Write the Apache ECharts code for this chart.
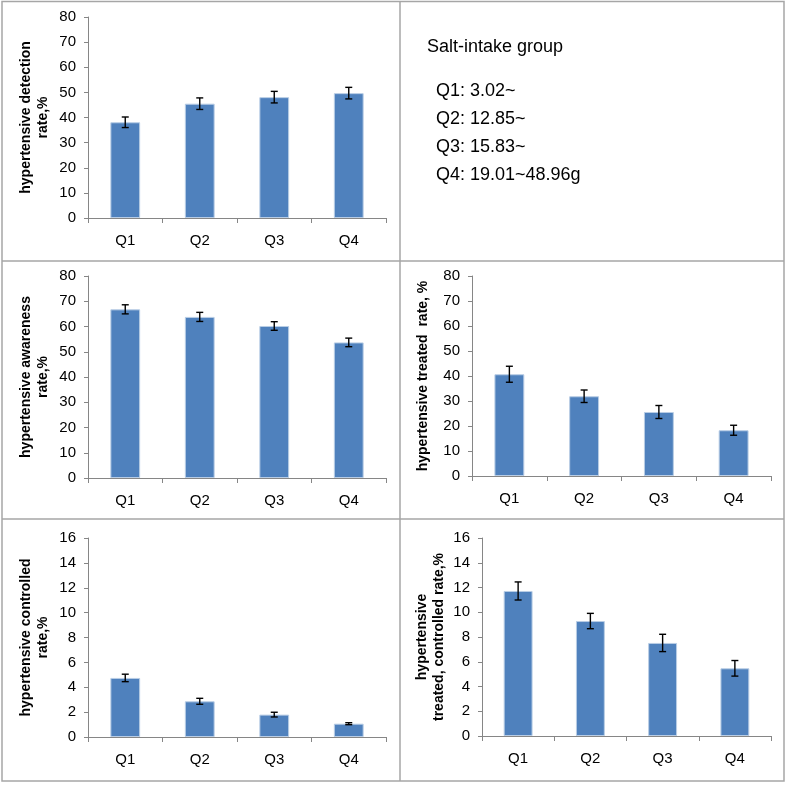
<!DOCTYPE html>
<html>
<head>
<meta charset="utf-8">
<script src="https://cdn.jsdelivr.net/npm/echarts@6/dist/echarts.min.js"></script>
<style>
html,body{margin:0;padding:0;background:#fff;}
#chart{width:787px;height:785px;}
</style>
</head>
<body>
<div id="chart"></div>
<script>
// ---- data ----
const categories = ['Q1', 'Q2', 'Q3', 'Q4'];
const detection = [38.1, 45.5, 48.1, 49.7];
const detectionErr = [2.1, 2.3, 2.3, 2.3];
const awareness = [66.8, 63.8, 60.2, 53.7];
const awarenessErr = [1.8, 1.8, 1.7, 1.7];
const treated = [40.7, 31.9, 25.6, 18.3];
const treatedErr = [3.2, 2.5, 2.6, 2.0];
const controlled = [4.75, 2.87, 1.80, 1.07];
const controlledErr = [0.30, 0.24, 0.19, 0.08];
const treatedControlled = [11.72, 9.29, 7.52, 5.47];
const treatedControlledErr = [0.73, 0.62, 0.70, 0.63];

const yNames = [
  'hypertensive detection\nrate,%',
  'hypertensive awareness\nrate,%',
  'hypertensive treated  rate, %',
  'hypertensive controlled\nrate,%',
  'hypertensive\ntreated, controlled rate,%'
];
const yMax = [80, 80, 80, 16, 16];
const yInterval = [10, 10, 10, 2, 2];

const groupTitle = 'Salt-intake group';
const groupLines = ['Q1: 3.02~', 'Q2: 12.85~', 'Q3: 15.83~', 'Q4: 19.01~48.96g'];

// ---- layout ----
const FONT = "'Liberation Sans', Arial, sans-serif";
const grids = [
  {left: 88, top: 17, width: 298, height: 201},
  {left: 88, top: 276, width: 298, height: 202},
  {left: 472, top: 276, width: 299, height: 200},
  {left: 88, top: 538, width: 298, height: 199},
  {left: 482, top: 538, width: 289, height: 198}
];
const nameGaps = [36, 36, 40, 36, 34];
const values = [detection, awareness, treated, controlled, treatedControlled];
const errs = [detectionErr, awarenessErr, treatedErr, controlledErr, treatedControlledErr];

const axisColor = '#868686';

function errRender(params, api) {
  const x = api.value(0), lo = api.value(1), hi = api.value(2);
  const a = api.coord([x, lo]);
  const b = api.coord([x, hi]);
  const w = 3.5;
  const st = {stroke: '#000', lineWidth: 1.4};
  return {
    type: 'group',
    children: [
      {type: 'line', shape: {x1: a[0], y1: a[1], x2: b[0], y2: b[1]}, style: st},
      {type: 'line', shape: {x1: a[0] - w, y1: a[1], x2: a[0] + w, y2: a[1]}, style: st},
      {type: 'line', shape: {x1: b[0] - w, y1: b[1], x2: b[0] + w, y2: b[1]}, style: st}
    ]
  };
}

const xAxes = [], yAxes = [], series = [];
grids.forEach((g, i) => {
  xAxes.push({
    type: 'category', gridIndex: i, data: categories,
    axisLine: {lineStyle: {color: axisColor, width: 1}},
    axisTick: {show: true, length: 5, lineStyle: {color: axisColor}},
    axisLabel: {color: '#000', fontSize: 15, fontFamily: FONT, margin: 15}
  });
  yAxes.push({
    type: 'value', gridIndex: i, min: 0, max: yMax[i], interval: yInterval[i],
    name: yNames[i], nameLocation: 'middle', nameGap: nameGaps[i], nameRotate: 90,
    nameTextStyle: {color: '#000', fontSize: 14, fontWeight: 'bold', fontFamily: FONT, lineHeight: 17},
    axisLine: {show: true, lineStyle: {color: axisColor, width: 1}},
    axisTick: {show: true, length: 4, lineStyle: {color: axisColor}},
    splitLine: {show: false},
    axisLabel: {color: '#000', fontSize: 15, fontFamily: FONT, margin: 12}
  });
  series.push({
    type: 'bar', xAxisIndex: i, yAxisIndex: i, data: values[i], barWidth: '40%',
    itemStyle: {color: '#4f81bd', borderColor: '#b9cde5', borderWidth: 1},
    silent: true, animation: false
  });
  series.push({
    type: 'custom', xAxisIndex: i, yAxisIndex: i, renderItem: errRender, z: 5,
    data: values[i].map((v, k) => [k, v - errs[i][k], v + errs[i][k]]),
    silent: true, animation: false
  });
});

const border = {stroke: '#a6a6a6', lineWidth: 1.5};
const graphic = [
  {type: 'rect', shape: {x: 2, y: 1.5, width: 782, height: 779.5}, style: {fill: null, stroke: '#a6a6a6', lineWidth: 1.5}, z: -1},
  {type: 'line', shape: {x1: 400, y1: 1.5, x2: 400, y2: 781}, style: border},
  {type: 'line', shape: {x1: 2, y1: 261, x2: 784, y2: 261}, style: border},
  {type: 'line', shape: {x1: 2, y1: 519, x2: 784, y2: 519}, style: border},
  {type: 'text', left: 427, top: 38, style: {text: groupTitle, fill: '#000', font: '18px ' + FONT}}
];
const lineYs = [82, 110, 138, 166];
groupLines.forEach((t, k) => {
  graphic.push({type: 'text', left: 436, top: lineYs[k], style: {text: t, fill: '#000', font: '18px ' + FONT}});
});

const chart = echarts.init(document.getElementById('chart'), null, {renderer: 'canvas'});
chart.setOption({
  animation: false,
  backgroundColor: '#fff',
  grid: grids.map(g => Object.assign({containLabel: false}, g)),
  xAxis: xAxes,
  yAxis: yAxes,
  series: series,
  graphic: graphic
});
</script>
</body>
</html>
